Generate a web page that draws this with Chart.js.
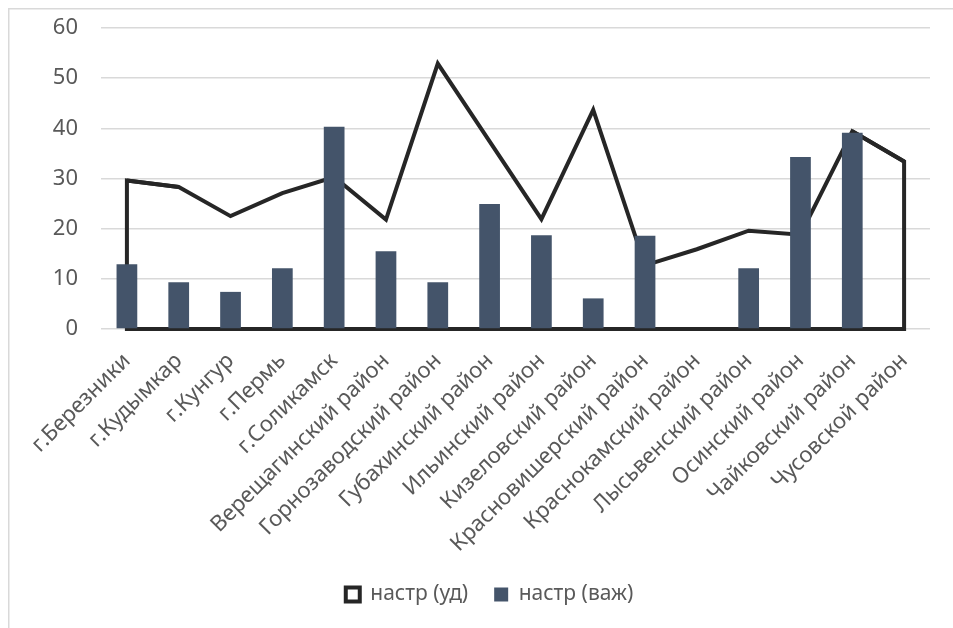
<!DOCTYPE html>
<html>
<head>
<meta charset="utf-8">
<script src="https://cdn.jsdelivr.net/npm/chart.js@4"></script>
<style>
  html, body { margin: 0; padding: 0; background: #fff; }
  #wrap { position: relative; width: 953px; height: 628px; }
</style>
</head>
<body>
<div id="wrap"><canvas id="c" width="953" height="628"></canvas></div>
<script>
// Districts of Perm Krai
const categories = [
  'г.Березники', 'г.Кудымкар', 'г.Кунгур', 'г.Пермь', 'г.Соликамск',
  'Верещагинский район', 'Горнозаводский район', 'Губахинский район',
  'Ильинский район', 'Кизеловский район', 'Красновишерский район',
  'Краснокамский район', 'Лысьвенский район', 'Осинский район',
  'Чайковский район', 'Чусовской район'
];
// настр (уд) — drawn as an unfilled area outline
const nastrUd = [29.6, 28.3, 22.5, 27.1, 30.3, 21.8, 52.9, 37.4, 21.9, 43.7, 12.7, 15.9, 19.6, 18.8, 39.4, 33.4];
// настр (важ) — columns
const nastrVazh = [12.9, 9.3, 7.4, 12.1, 40.3, 15.5, 9.3, 24.9, 18.7, 6.1, 18.6, 0, 12.1, 34.3, 39.1, 0];
const yTicks = [0, 10, 20, 30, 40, 50, 60];

const FONT = '"Noto Sans", "Open Sans", sans-serif';
const TEXT = '#595959';
const LINE = '#262626';
const BAR = '#44546A';

// Closes the area outline: verticals at both ends and the baseline at zero
const areaOutline = {
  id: 'areaOutline',
  afterDatasetDraw(chart, args) {
    if (args.index !== 0) return;
    const pts = args.meta.data;
    if (pts.length < 2) return;
    const y0 = chart.scales.y.getPixelForValue(0);
    const n = pts.length;
    const ctx = chart.ctx;
    ctx.save();
    ctx.strokeStyle = LINE;
    ctx.lineWidth = 4;
    ctx.lineJoin = 'miter';
    ctx.beginPath();
    ctx.moveTo(pts[1].x, pts[1].y);
    ctx.lineTo(pts[0].x, pts[0].y);
    ctx.lineTo(pts[0].x, y0);
    ctx.lineTo(pts[n - 1].x, y0);
    ctx.lineTo(pts[n - 1].x, pts[n - 1].y);
    ctx.lineTo(pts[n - 2].x, pts[n - 2].y);
    ctx.stroke();
    ctx.restore();
  }
};

// Light frame around the chart; the legend is centred on the frame
const frame = {
  id: 'frame',
  afterLayout(chart) {
    const lg = chart.legend;
    if (lg) { lg.left += 20; lg.right += 20; }
  },
  beforeDraw(chart) {
    const ctx = chart.ctx;
    ctx.save();
    ctx.fillStyle = '#fff';
    ctx.fillRect(0, 0, chart.width, chart.height);
    ctx.strokeStyle = '#d9d9d9';
    ctx.lineWidth = 1.5;
    ctx.strokeRect(8.75, 8.75, 1200, 1200);
    ctx.restore();
  }
};

new Chart(document.getElementById('c'), {
  type: 'bar',
  data: {
    labels: categories,
    datasets: [
      {
        type: 'line',
        label: 'настр (уд)',
        data: nastrUd,
        borderColor: LINE,
        backgroundColor: '#ffffff',
        borderWidth: 4,
        pointRadius: 0,
        tension: 0,
        fill: false,
        borderJoinStyle: 'miter',
        order: 2
      },
      {
        type: 'bar',
        label: 'настр (важ)',
        data: nastrVazh,
        backgroundColor: BAR,
        borderWidth: 0,
        barPercentage: 0.4,
        categoryPercentage: 1,
        order: 1
      }
    ]
  },
  options: {
    responsive: false,
    animation: false,
    devicePixelRatio: 1,
    layout: { padding: { left: 9, right: 23, top: 28, bottom: 13 } },
    plugins: {
      legend: {
        position: 'bottom',
        labels: {
          color: TEXT,
          font: { family: FONT, size: 21 },
          boxWidth: 14,
          boxHeight: 14,
          padding: 26,
          sort: (a, b) => a.datasetIndex - b.datasetIndex
        }
      },
      tooltip: { enabled: false }
    },
    scales: {
      x: {
        offset: true,
        grid: { display: false, drawTicks: false },
        border: { display: false },
        ticks: {
          color: TEXT,
          font: { family: FONT, size: 22 },
          minRotation: 45,
          maxRotation: 45,
          autoSkip: false,
          padding: 19
        },
        afterFit(scale) { scale.height = 229; }
      },
      y: {
        min: 0,
        max: 60,
        afterBuildTicks(scale) { scale.ticks = yTicks.map(v => ({ value: v })); },
        grid: { color: '#d9d9d9', lineWidth: 1.5, drawTicks: false },
        border: { display: false },
        ticks: {
          color: TEXT,
          font: { family: FONT, size: 22 },
          padding: 23
        },
        afterFit(scale) {
          scale.width = 92;
          scale.paddingTop = 0;
          scale.paddingBottom = 0;
        }
      }
    }
  },
  plugins: [frame, areaOutline]
});
</script>
</body>
</html>
